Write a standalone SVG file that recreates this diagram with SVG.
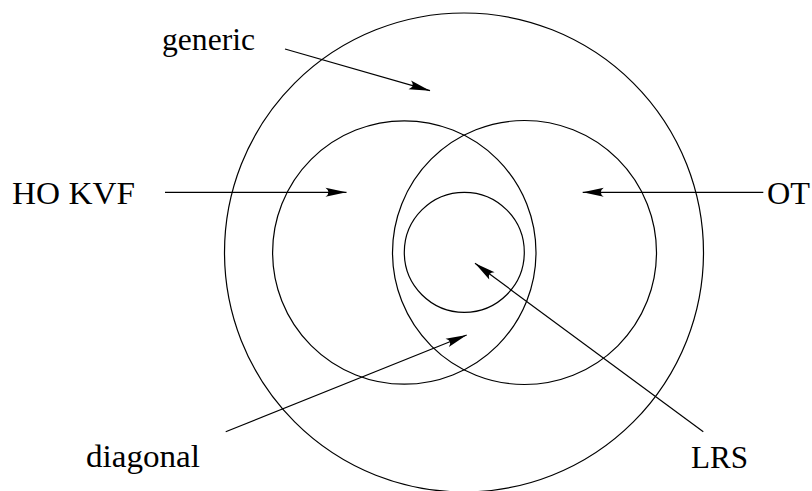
<svg xmlns="http://www.w3.org/2000/svg" width="812" height="491" viewBox="0 0 812 491">
<style>
.c{fill:none;stroke:#000;stroke-width:1.2}
.a{fill:none;stroke:#000;stroke-width:1.2;marker-end:url(#ah)}
text{font-family:"Liberation Serif","DejaVu Serif",serif;font-size:32px;fill:#000}
</style>
<defs>
<marker id="ah" markerUnits="userSpaceOnUse" markerWidth="24" markerHeight="12" viewBox="-22 -6 24 12" refX="0" refY="0" orient="auto">
<path d="M0,0 L-21,-4.5 Q-15,0 -21,4.5 Z" fill="#000"/>
</marker>
</defs>
<g id="generic-set"><circle class="c" cx="464" cy="252.5" r="239.5"/></g>
<g id="ho-kvf-set"><circle class="c" cx="404.3" cy="252.5" r="131.7"/></g>
<g id="ot-set"><circle class="c" cx="524.5" cy="252.5" r="132"/></g>
<g id="lrs-set"><circle class="c" cx="464.3" cy="252.3" r="60"/></g>
<g id="connectors">
<line class="a" x1="285" y1="49" x2="430" y2="90.7"/>
<line class="a" x1="165" y1="192.3" x2="346.5" y2="192.3"/>
<line class="a" x1="763.3" y1="192.3" x2="582.7" y2="192.3"/>
<line class="a" x1="225.7" y1="431.7" x2="466.7" y2="335"/>
<line class="a" x1="703.3" y1="431.7" x2="475" y2="263.3"/>
</g>
<g id="label-generic"><text x="162" y="50" textLength="93" lengthAdjust="spacingAndGlyphs">generic</text></g>
<g id="label-hokvf"><text x="12" y="204" textLength="123" lengthAdjust="spacingAndGlyphs">HO KVF</text></g>
<g id="label-ot"><text x="767" y="204" textLength="43" lengthAdjust="spacingAndGlyphs">OT</text></g>
<g id="label-diagonal"><text x="86" y="466.7" textLength="114" lengthAdjust="spacingAndGlyphs">diagonal</text></g>
<g id="label-lrs"><text x="691" y="468.3" textLength="57" lengthAdjust="spacingAndGlyphs">LRS</text></g>
</svg>
